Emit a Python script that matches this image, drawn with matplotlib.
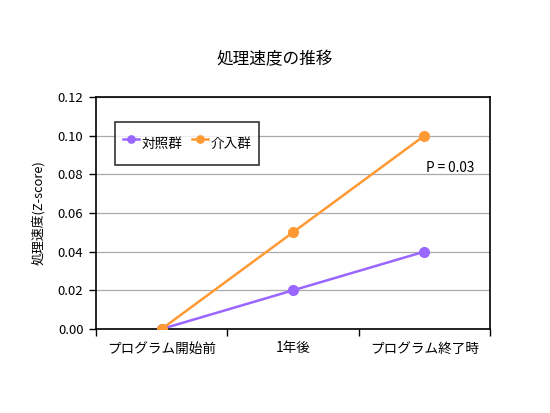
import matplotlib
matplotlib.use('Agg')
import matplotlib.pyplot as plt

plt.rcParams['font.family'] = ['Noto Sans CJK JP', 'DejaVu Sans']

categories = ['プログラム開始前', '1年後', 'プログラム終了時']
control = [0.0, 0.02, 0.04]
intervention = [0.0, 0.05, 0.10]
yticks = [0.0, 0.02, 0.04, 0.06, 0.08, 0.10, 0.12]

fig = plt.figure(figsize=(5.5, 4.13), dpi=100)
ax = fig.add_axes([0.1745, 0.2034, 0.7164, 0.5616])

x = list(range(len(categories)))
ax.plot(x, control, color='#9966FF', lw=1.8, marker='o', ms=7, label='対照群', zorder=3)
ax.plot(x, intervention, color='#FF9933', lw=1.8, marker='o', ms=7, label='介入群', zorder=4)

ax.set_xlim(-0.5, 2.5)
ax.set_ylim(0, 0.12)
ax.set_yticks(yticks)
ax.set_yticklabels(['%.2f' % v for v in yticks], fontsize=9.5)
ax.set_xticks([-0.5, 0.5, 1.5, 2.5])
ax.set_xticklabels([])
ax.set_xticks(x, minor=True)
ax.set_xticklabels(categories, minor=True, fontsize=9.8)
ax.tick_params(axis='x', which='minor', length=0, pad=9)
ax.tick_params(axis='x', which='major', direction='out', length=5, width=1)
ax.tick_params(axis='y', direction='out', length=5, width=1, pad=4)
ax.grid(axis='y', color='#aaaaaa', lw=0.9)
ax.set_axisbelow(True)
for s in ax.spines.values():
    s.set_linewidth(1.2)
    s.set_color('black')

ax.set_ylabel('処理速度(Z-score)', fontsize=9.3, labelpad=9)
fig.suptitle('処理速度の推移', fontsize=12, y=0.875)

ax.text(2.2, 0.0835, 'P = 0.03', fontsize=9.8, ha='center', va='center')

leg = ax.legend(loc='upper left', bbox_to_anchor=(0.048, 0.892), ncol=2, fontsize=9.8,
                frameon=True, fancybox=False, edgecolor='black', handlelength=1.2,
                handleheight=2.6, handletextpad=0.15, columnspacing=0.7,
                borderpad=0.6, borderaxespad=0, markerscale=0.75)
leg.get_frame().set_linewidth(1.2)

fig.savefig('out.png', dpi=100)
